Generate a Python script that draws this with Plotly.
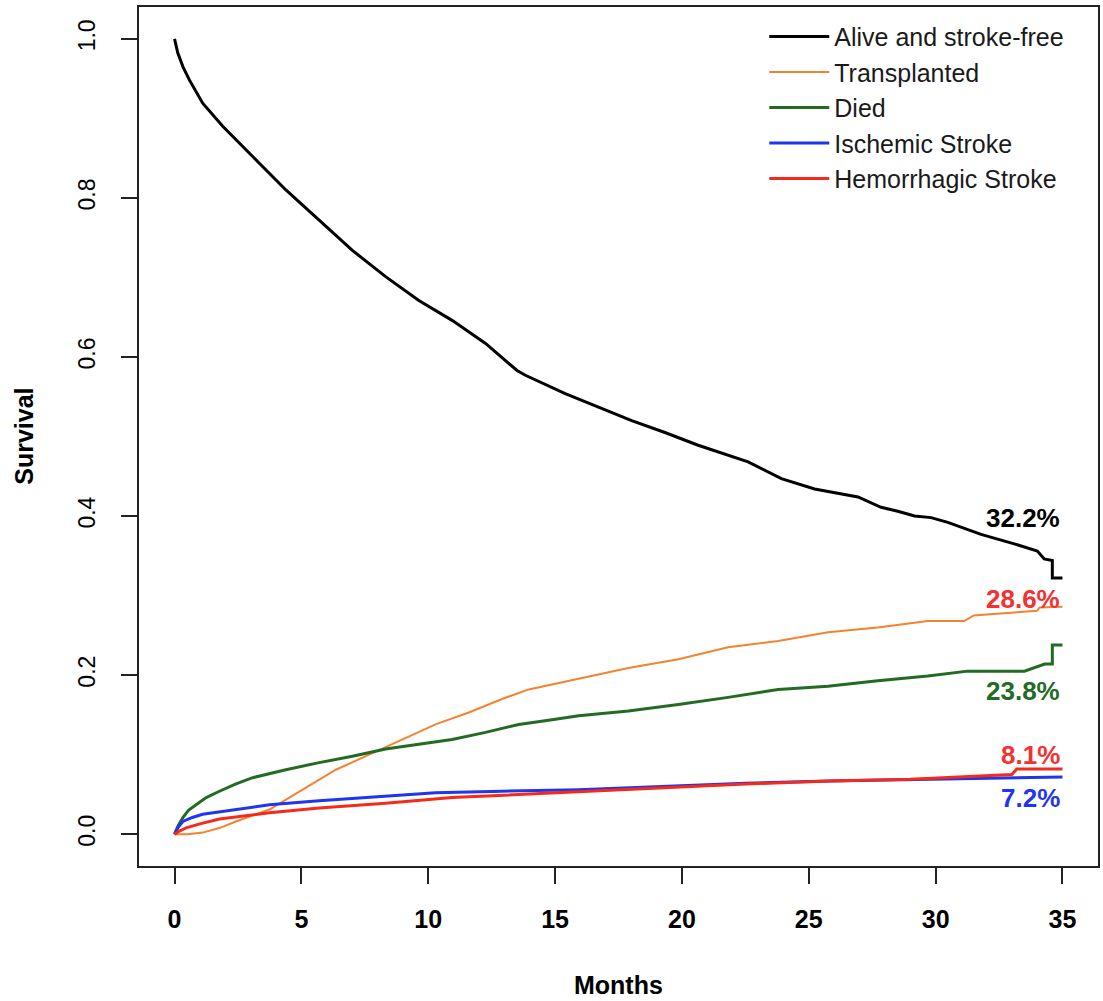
import plotly.graph_objects as go

# ---- data (months, cumulative probability) ----
alive_t = [0, 0.13, 0.33, 0.59, 1.11, 1.51, 1.90, 3.08, 4.39, 5.70, 7.01, 8.32, 9.63, 10.94, 12.26, 13.5, 13.83,
           15.40, 16.71, 18.02, 19.33, 20.64, 22.61, 23.92, 25.23, 26.94, 27.85, 28.51, 29.17,
           29.82, 30.48, 31.79, 33.10, 34.01, 34.28, 34.6, 34.6, 35.0]
alive_v = [1.0, 0.982, 0.965, 0.948, 0.919, 0.904, 0.890, 0.852, 0.810, 0.772, 0.734, 0.701, 0.671, 0.646, 0.617, 0.583, 0.577,
           0.554, 0.537, 0.520, 0.505, 0.489, 0.468, 0.447, 0.434, 0.424, 0.411, 0.406, 0.400,
           0.398, 0.392, 0.377, 0.365, 0.356, 0.346, 0.344, 0.322, 0.322]

trans_t = [0, 0.5, 1.11, 1.8, 2.42, 3.74, 5.05, 6.36, 7.67, 8.98, 10.29, 11.6, 12.91, 13.96, 15.93, 17.89,
           19.86, 21.82, 23.79, 25.76, 27.72, 29.69, 31.13, 31.5, 32.4, 34.0, 34.1, 35.0]
trans_v = [0, 0.0, 0.002, 0.008, 0.016, 0.031, 0.056, 0.081, 0.100, 0.119, 0.138, 0.153, 0.170, 0.182, 0.196, 0.209,
           0.220, 0.235, 0.243, 0.254, 0.260, 0.268, 0.268, 0.275, 0.277, 0.281, 0.285, 0.286]

died_t = [0, 0.15, 0.33, 0.55, 0.85, 1.25, 1.77, 2.4, 3.08, 4.39, 5.70, 7.01, 8.32, 9.63, 10.94, 12.26, 13.57, 14.88, 15.93,
          17.89, 19.86, 21.82, 23.79, 25.76, 27.72, 29.69, 31.26, 33.5, 34.3, 34.6, 34.6, 35.0]
died_v = [0, 0.011, 0.021, 0.030, 0.037, 0.046, 0.054, 0.063, 0.071, 0.081, 0.090, 0.098, 0.107, 0.113, 0.119, 0.128, 0.138, 0.144, 0.149,
          0.155, 0.163, 0.172, 0.182, 0.186, 0.193, 0.199, 0.205, 0.205, 0.214, 0.214, 0.238, 0.238]

isch_t = [0, 0.15, 0.33, 0.7, 1.11, 2.42, 3.74, 5.70, 7.67, 10.29, 12.91, 15.93, 19.2, 22.5, 25.8, 29.0, 32.3, 35.0]
isch_v = [0, 0.009, 0.016, 0.021, 0.025, 0.031, 0.037, 0.042, 0.046, 0.052, 0.054, 0.056, 0.060, 0.064, 0.067, 0.069, 0.071, 0.072]

hem_t = [0, 0.2, 0.46, 1.0, 1.77, 2.7, 3.74, 5.70, 8.32, 10.94, 13.57, 15.93, 19.2, 22.5, 25.8, 29.0, 33.0, 33.2, 35.0]
hem_v = [0, 0.004, 0.008, 0.013, 0.019, 0.023, 0.027, 0.033, 0.039, 0.046, 0.050, 0.053, 0.058, 0.063, 0.067, 0.069, 0.075, 0.082, 0.082]

series_names = ["Alive and stroke-free", "Transplanted", "Died", "Ischemic Stroke", "Hemorrhagic Stroke"]
series_colors = ["#000000", "#F5822F", "#236B23", "#1F35F0", "#F52A1A"]
series_widths = [3, 2, 3, 3, 3]

end_labels = ["32.2%", "28.6%", "23.8%", "8.1%", "7.2%"]
end_label_y = [0.398, 0.296, 0.180, 0.0995, 0.045]
end_label_colors = ["#000000", "#F53030", "#236B23", "#F53030", "#1F35F0"]

x_ticks = [0, 5, 10, 15, 20, 25, 30, 35]
y_ticks = [0.0, 0.2, 0.4, 0.6, 0.8, 1.0]
y_ticklabels = ["0.0", "0.2", "0.4", "0.6", "0.8", "1.0"]

FONT = "Liberation Sans, Arial, sans-serif"

fig = go.Figure()
all_t = [alive_t, trans_t, died_t, isch_t, hem_t]
all_v = [alive_v, trans_v, died_v, isch_v, hem_v]
for t, v, name, col, w in zip(all_t, all_v, series_names, series_colors, series_widths):
    fig.add_trace(go.Scatter(x=t, y=v, mode="lines", name=name,
                             line=dict(color=col, width=w)))

for lab, y, col in zip(end_labels, end_label_y, end_label_colors):
    fig.add_annotation(x=35, y=y, xref="x", yref="y", text=lab, showarrow=False,
                       xanchor="right", yanchor="middle",
                       font=dict(family=FONT, size=26, color=col, weight="bold"))

# axis titles
fig.add_annotation(x=-0.1207, y=0.5, xref="paper", yref="paper", text="Survival",
                   showarrow=False, textangle=-90, xanchor="center", yanchor="middle",
                   font=dict(family=FONT, size=25, color="#000000", weight="bold"))
fig.add_annotation(x=0.5, y=-0.1385, xref="paper", yref="paper", text="Months",
                   showarrow=False, xanchor="center", yanchor="middle",
                   font=dict(family=FONT, size=25, color="#000000", weight="bold"))

fig.update_layout(
    width=1103, height=1001,
    margin=dict(l=139, r=3, t=7, b=135),
    paper_bgcolor="white", plot_bgcolor="white",
    showlegend=True,
    legend=dict(x=0.652, y=0.992, xanchor="left", yanchor="top",
                bgcolor="rgba(0,0,0,0)", borderwidth=0,
                font=dict(family=FONT, size=25, color="#1a1a1a"),
                itemwidth=60, tracegroupgap=0, traceorder="normal"),
    xaxis=dict(range=[-1.4, 36.4], tickvals=x_ticks, ticks="outside", ticklen=16,
               tickwidth=1.5, tickcolor="#222", showline=True, linecolor="#222", linewidth=1.5,
               mirror=True, showgrid=False, zeroline=False, ticklabelstandoff=14,
               tickfont=dict(family=FONT, size=25, color="#000", weight="bold")),
    yaxis=dict(range=[-0.04, 1.04], tickvals=y_ticks, ticktext=y_ticklabels, ticks="outside",
               ticklen=16, tickwidth=1.5, tickcolor="#222", showline=True, linecolor="#222",
               linewidth=1.5, mirror=True, showgrid=False, zeroline=False, tickangle=-90,
               ticklabelstandoff=17,
               tickfont=dict(family=FONT, size=23, color="#000")),
)

fig.write_html("out.html")
